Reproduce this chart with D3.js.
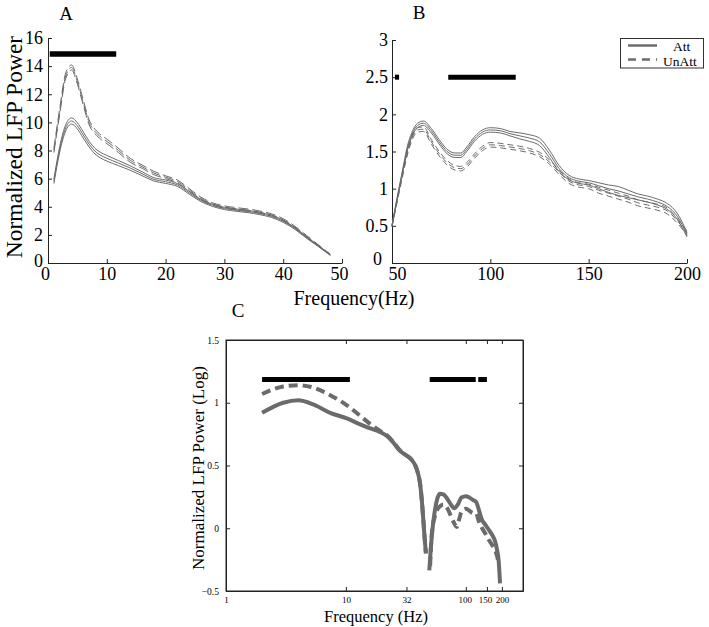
<!DOCTYPE html>
<html><head><meta charset="utf-8">
<script src="https://cdn.jsdelivr.net/npm/d3@7"></script>
<style>
body{margin:0;background:#fff}
svg{display:block}
text{font-family:"Liberation Serif","Times New Roman",serif;fill:#000}
</style>
</head><body>
<svg id="chart" width="709" height="627"></svg>
<script>
// ---------- Panel A (1-48 Hz) ----------
const aFreq = [1,2,3,4,5,6,7,8,9,10,12,14,16,18,20,22,24,26,28,30,32,34,36,38,40,42,44,46,48];
const aAtt = [5.8,8.1,9.6,10.1,9.75,9.1,8.45,7.95,7.65,7.45,7.1,6.75,6.35,5.95,5.78,5.55,5.0,4.45,4.1,3.88,3.76,3.66,3.52,3.32,2.97,2.45,1.8,1.2,0.57];
const aAttSE = [0.15,0.2,0.22,0.22,0.22,0.22,0.2,0.2,0.2,0.2,0.18,0.16,0.14,0.12,0.12,0.1,0.1,0.08,0.08,0.08,0.08,0.08,0.08,0.08,0.08,0.06,0.05,0.04,0.03];
const aUnAtt = [8.0,10.8,13.3,13.9,12.9,11.4,10.0,9.35,8.95,8.65,8.0,7.3,6.85,6.4,6.1,5.8,5.2,4.6,4.2,3.98,3.86,3.76,3.62,3.42,3.07,2.55,1.9,1.25,0.6];
const aUnAttSE = [0.15,0.2,0.2,0.18,0.18,0.18,0.18,0.16,0.16,0.16,0.15,0.14,0.12,0.12,0.1,0.1,0.1,0.08,0.08,0.08,0.08,0.08,0.08,0.08,0.08,0.06,0.05,0.04,0.03];
const aBar = [0.3, 11.6, 14.86];
const aXTicks = [0,10,20,30,40,50];
const aYTicks = [0,2,4,6,8,10,12,14,16];

// ---------- Panel B (50-200 Hz) ----------
const bFreq = [50,52,55,58,60,63,66,70,74,78,82,85,88,92,96,100,105,110,115,120,125,130,135,140,145,150,155,160,165,170,175,180,185,190,195,200];
const bAtt = [0.5,0.78,1.18,1.56,1.72,1.85,1.88,1.78,1.63,1.5,1.45,1.45,1.53,1.67,1.76,1.79,1.78,1.74,1.71,1.68,1.63,1.47,1.27,1.15,1.1,1.08,1.04,1.0,0.97,0.93,0.89,0.86,0.82,0.76,0.63,0.38];
const bAttSE = [0.01,0.02,0.02,0.03,0.03,0.03,0.03,0.03,0.03,0.03,0.03,0.03,0.03,0.03,0.03,0.03,0.03,0.03,0.04,0.045,0.05,0.05,0.04,0.03,0.03,0.03,0.04,0.05,0.06,0.05,0.04,0.04,0.04,0.04,0.04,0.03];
const bUnAtt = [0.5,0.76,1.14,1.5,1.67,1.79,1.8,1.63,1.47,1.35,1.28,1.27,1.32,1.44,1.54,1.59,1.58,1.56,1.54,1.51,1.46,1.36,1.22,1.1,1.05,1.03,0.98,0.94,0.9,0.86,0.81,0.78,0.75,0.7,0.57,0.4];
const bUnAttSE = [0.01,0.02,0.02,0.03,0.03,0.03,0.03,0.03,0.03,0.03,0.03,0.03,0.03,0.03,0.03,0.03,0.03,0.03,0.03,0.03,0.03,0.03,0.03,0.03,0.03,0.03,0.04,0.04,0.04,0.04,0.04,0.04,0.04,0.04,0.03,0.03];
const bBars = [[51.5, 53.6, 2.5],[78.6, 112.9, 2.5]];
const bXTicks = [50,100,150,200];
const bYTicks = [0,0.5,1,1.5,2,2.5,3];
const legendLabels = ["Att","UnAtt"];

// ---------- Panel C (log-log) ----------
const cAttLoF = [2,3,4,5.4,7.4,10.2,13,16,19,22,25,28,32,35,39,41.5,43,44.2,45.3,46.5];
const cAttLo = [0.92,1.0,1.02,0.985,0.92,0.875,0.83,0.795,0.77,0.735,0.68,0.62,0.58,0.55,0.47,0.36,0.22,0.07,-0.07,-0.2];
const cUnAttLoF = [2,3,4,5.4,7.4,10.2,13,16,19,22,25,28,32,35,39,41.5,43,44.2,45.3,46.5];
const cUnAttLo = [1.07,1.13,1.14,1.12,1.06,0.98,0.9,0.83,0.78,0.74,0.685,0.625,0.58,0.55,0.47,0.36,0.22,0.07,-0.07,-0.2];
const cAttHiF = [49.6,52,55.4,58,61,65,70,75,80,86,92,100,107,115,122,130,136,145,155,165,175,182,188,193];
const cAttHi = [-0.335,-0.07,0.15,0.24,0.275,0.27,0.235,0.19,0.16,0.19,0.245,0.255,0.245,0.225,0.21,0.13,0.07,0.03,-0.01,-0.05,-0.1,-0.17,-0.26,-0.44];
const cUnAttHiF = [50.4,52,55.4,58,61,65,70,75,80,84,88,92,100,107,115,122,128,135,145,155,165,175,182,188];
const cUnAttHi = [-0.30,-0.05,0.1,0.15,0.175,0.19,0.16,0.1,0.04,0.01,0.07,0.13,0.155,0.14,0.12,0.12,0.06,0.01,-0.04,-0.09,-0.13,-0.17,-0.22,-0.28];
const cBars = [[2.0, 10.8, 1.185],[50, 121, 1.185],[127, 150, 1.185]];
const cXTicks = [1,10,32,100,150,200];
const cYTicks = [-0.5,0,0.5,1,1.5];

const svg = d3.select("#chart");
const lineCol = "#6b6b6b";
const axisCol = "#222";

function styleAxis(g, fs){
  g.selectAll("path.domain").attr("stroke", axisCol).attr("stroke-width",1);
  g.selectAll(".tick line").attr("stroke", axisCol);
  g.selectAll(".tick text").attr("font-size", fs).attr("font-family",'"Liberation Serif","Times New Roman",serif').attr("fill","#000");
}

function drawTriple(g, x, y, fr, m, se, dash, sw){
  const line = d3.line().x(d=>x(d[0])).y(d=>y(d[1])).curve(d3.curveMonotoneX);
  [-1,0,1].forEach(k=>{
    g.append("path")
      .attr("d", line(fr.map((f,i)=>[f, m[i] + k*se[i]])))
      .attr("fill","none").attr("stroke", lineCol)
      .attr("stroke-width", sw)
      .attr("stroke-dasharray", dash);
  });
}

// ===== Panel A =====
{
  const x = d3.scaleLinear().domain([0,50]).range([48,342]);
  const y = d3.scaleLinear().domain([0,16]).range([263,38]);
  const g = svg.append("g");
  const gx = g.append("g").attr("transform","translate(0,263)")
    .call(d3.axisBottom(x).tickValues(aXTicks).tickSizeInner(-4).tickSizeOuter(0).tickPadding(4));
  styleAxis(gx, 18);
  gx.selectAll(".tick text").filter(d=>d===0).attr("dx",-3);
  gx.selectAll(".tick text").filter(d=>d===50).attr("dx",-3);
  const gy = g.append("g").attr("transform","translate(48,0)")
    .call(d3.axisLeft(y).tickValues(aYTicks).tickSizeInner(-4).tickSizeOuter(0).tickPadding(5));
  styleAxis(gy, 18);
  gy.selectAll(".tick text").filter(d=>d===0).attr("dy","0.2em");
  drawTriple(g, x, y, aFreq, aAtt, aAttSE, null, 1);
  drawTriple(g, x, y, aFreq, aUnAtt, aUnAttSE, "10,4", 1);
  g.append("line").attr("x1",x(aBar[0])).attr("x2",x(aBar[1])).attr("y1",y(aBar[2])).attr("y2",y(aBar[2]))
    .attr("stroke","#000").attr("stroke-width",5.5);
  g.append("text").attr("x",66).attr("y",20).attr("text-anchor","middle").attr("font-size",19).text("A");
  g.append("text").attr("transform","translate(22,147) rotate(-90)").attr("text-anchor","middle")
    .attr("font-size",23.5).text("Normalized LFP Power");
}

// ===== Panel B =====
{
  const x = d3.scaleLinear().domain([50,200]).range([392,687]);
  const y = d3.scaleLinear().domain([0,3]).range([263,40]);
  const g = svg.append("g");
  const gx = g.append("g").attr("transform","translate(0,263)")
    .call(d3.axisBottom(x).tickValues(bXTicks).tickSizeInner(-4).tickSizeOuter(0).tickPadding(4));
  styleAxis(gx, 18);
  gx.selectAll(".tick text").filter(d=>d===50).attr("dx",5);
  const gy = g.append("g").attr("transform","translate(392,0)")
    .call(d3.axisLeft(y).tickValues(bYTicks).tickFormat(d3.format("~g")).tickSizeInner(-4).tickSizeOuter(0).tickPadding(4));
  styleAxis(gy, 18);
  gy.selectAll(".tick text").filter(d=>d===0).attr("dx",-6).attr("dy","0.1em");
  drawTriple(g, x, y, bFreq, bAtt, bAttSE, null, 1);
  drawTriple(g, x, y, bFreq, bUnAtt, bUnAttSE, "6,4", 1);
  bBars.forEach(b=>{
    g.append("line").attr("x1",x(b[0])).attr("x2",x(b[1])).attr("y1",y(b[2])).attr("y2",y(b[2]))
      .attr("stroke","#000").attr("stroke-width",5);
  });
  g.append("text").attr("x",419).attr("y",19).attr("text-anchor","middle").attr("font-size",19).text("B");
  // legend
  const lg = g.append("g");
  lg.append("rect").attr("x",620.5).attr("y",38.5).attr("width",83).attr("height",29.5)
    .attr("fill","#fff").attr("stroke","#333").attr("stroke-width",1);
  lg.append("line").attr("x1",628).attr("x2",657).attr("y1",45.5).attr("y2",45.5)
    .attr("stroke",lineCol).attr("stroke-width",2.5);
  lg.append("line").attr("x1",628).attr("x2",657).attr("y1",59.5).attr("y2",59.5)
    .attr("stroke",lineCol).attr("stroke-width",2.5).attr("stroke-dasharray","8,6");
  lg.append("text").attr("x",673).attr("y",50.5).attr("font-size",13.5).text(legendLabels[0]);
  lg.append("text").attr("x",663).attr("y",65.5).attr("font-size",13.5).text(legendLabels[1]);
}

// shared x title for A and B
svg.append("text").attr("x",354).attr("y",305).attr("text-anchor","middle").attr("font-size",20).text("Frequency(Hz)");

// ===== Panel C =====
{
  const x = d3.scaleLog().domain([1,300]).range([226,523]);
  const y = d3.scaleLinear().domain([-0.5,1.5]).range([591,340]);
  const g = svg.append("g");
  const gb = g.append("g").attr("transform","translate(0,591)")
    .call(d3.axisBottom(x).tickValues(cXTicks).tickFormat(d=>String(d)).tickSizeInner(-4).tickSizeOuter(0).tickPadding(6));
  styleAxis(gb, 9);
  gb.selectAll(".tick text").filter(d=>d===150).attr("dx",-2);
  gb.selectAll(".tick text").filter(d=>d===100).attr("dx",-1);
  const gt = g.append("g").attr("transform","translate(0,340)")
    .call(d3.axisTop(x).tickValues(cXTicks).tickFormat("").tickSizeInner(-4).tickSizeOuter(0));
  styleAxis(gt, 9);
  const gl = g.append("g").attr("transform","translate(226,0)")
    .call(d3.axisLeft(y).tickValues(cYTicks).tickFormat(d3.format("~g")).tickSizeInner(-4).tickSizeOuter(0).tickPadding(7));
  styleAxis(gl, 9.5);
  const gr = g.append("g").attr("transform","translate(523,0)")
    .call(d3.axisRight(y).tickValues(cYTicks).tickFormat("").tickSizeInner(-4).tickSizeOuter(0));
  styleAxis(gr, 9);
  g.append("rect").attr("x",226).attr("y",340).attr("width",297).attr("height",251)
    .attr("fill","none").attr("stroke",axisCol).attr("stroke-width",1);

  const line = d3.line().x(d=>x(d[0])).y(d=>y(d[1])).curve(d3.curveMonotoneX);
  const seg = (fr, v, dash)=> g.append("path")
      .attr("d", line(fr.map((f,i)=>[f,v[i]])))
      .attr("fill","none").attr("stroke", lineCol).attr("stroke-width",4)
      .attr("stroke-dasharray", dash);
  seg(cUnAttLoF, cUnAttLo, "9,5");
  seg(cUnAttHiF, cUnAttHi, "9,5");
  seg(cAttLoF, cAttLo, null);
  seg(cAttHiF, cAttHi, null);
  cBars.forEach(b=>{
    g.append("line").attr("x1",x(b[0])).attr("x2",x(b[1])).attr("y1",y(b[2])).attr("y2",y(b[2]))
      .attr("stroke","#000").attr("stroke-width",5);
  });
  g.append("text").attr("x",238).attr("y",317).attr("text-anchor","middle").attr("font-size",19).text("C");
  g.append("text").attr("x",376).attr("y",622).attr("text-anchor","middle").attr("font-size",16.5).text("Frequency (Hz)");
  g.append("text").attr("transform","translate(204,468) rotate(-90)").attr("text-anchor","middle")
    .attr("font-size",17).text("Normalized LFP Power (Log)");
}
</script>
</body></html>
